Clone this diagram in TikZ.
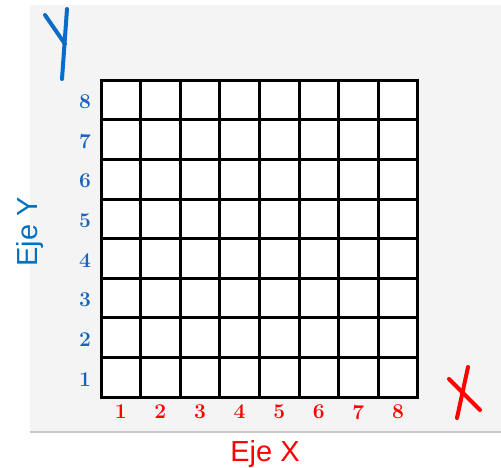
\documentclass[tikz,border=0pt]{standalone}
\usepackage{fontspec}
\newfontfamily\ejefont{Liberation Sans}
\usetikzlibrary{calc}
\definecolor{plpanel}{HTML}{F4F4F4}
\definecolor{plrule} {HTML}{C8C8C8}
\definecolor{plblue} {HTML}{1565C0}
\definecolor{plaxisb}{HTML}{0070C0}
\definecolor{plpen}  {HTML}{0A6CC8}
\definecolor{plred}  {HTML}{FF0000}
\tikzset{
  plgrid/.style={draw=black, line width=3pt, line cap=rect},
  plynum/.style={font=\bfseries\fontsize{21}{21}\selectfont, text=plblue, inner sep=0pt},
  plxnum/.style={font=\bfseries\fontsize{21}{21}\selectfont, text=plred, inner sep=0pt},
  plaxis/.style={font=\ejefont\fontsize{29}{29}\selectfont, inner sep=0pt},
  plstroke/.style={line width=4pt, line cap=round},
}
\begin{document}
\begin{tikzpicture}[x=1pt,y=-1pt]
  \useasboundingbox (0,0) rectangle (501,467);
  % sheet behind the grid
  \fill[plpanel] (30,5) rectangle (501,432);
  \draw[plrule, line width=2pt] (30,432) -- (501,432);
  % grid of 8 x 8 cells
  \begin{scope}[shift={(101,397)}, x=39.6pt, y=39.6pt]
    \fill[white] (0,0) rectangle (8,8);
    \foreach \k in {0,...,8} {
      \draw[plgrid] (\k,0) -- (\k,8);
      \draw[plgrid] (0,\k) -- (8,\k);
    }
    \foreach \n in {1,...,8} {
      \node[plynum] (ynum\n) at (-0.4,\n-0.55) {\n};
      \node[plxnum] (xnum\n) at (\n-0.5,-0.38) {\n};
    }
  \end{scope}
  % axis names
  \node[plaxis, text=plaxisb, rotate=90] (ejey) at (30,232) {Eje Y};
  \node[plaxis, text=plred, anchor=base] (ejex) at (265,461) {Eje X};
  % hand drawn letters
  \draw[plstroke, plpen] (45,15) -- (65,44);
  \draw[plstroke, plpen] (67,9) -- (62,79);
  \draw[plstroke, plred] (449,379) -- (480,410);
  \draw[plstroke, plred] (468,367) -- (457,418);
\end{tikzpicture}
\end{document}
